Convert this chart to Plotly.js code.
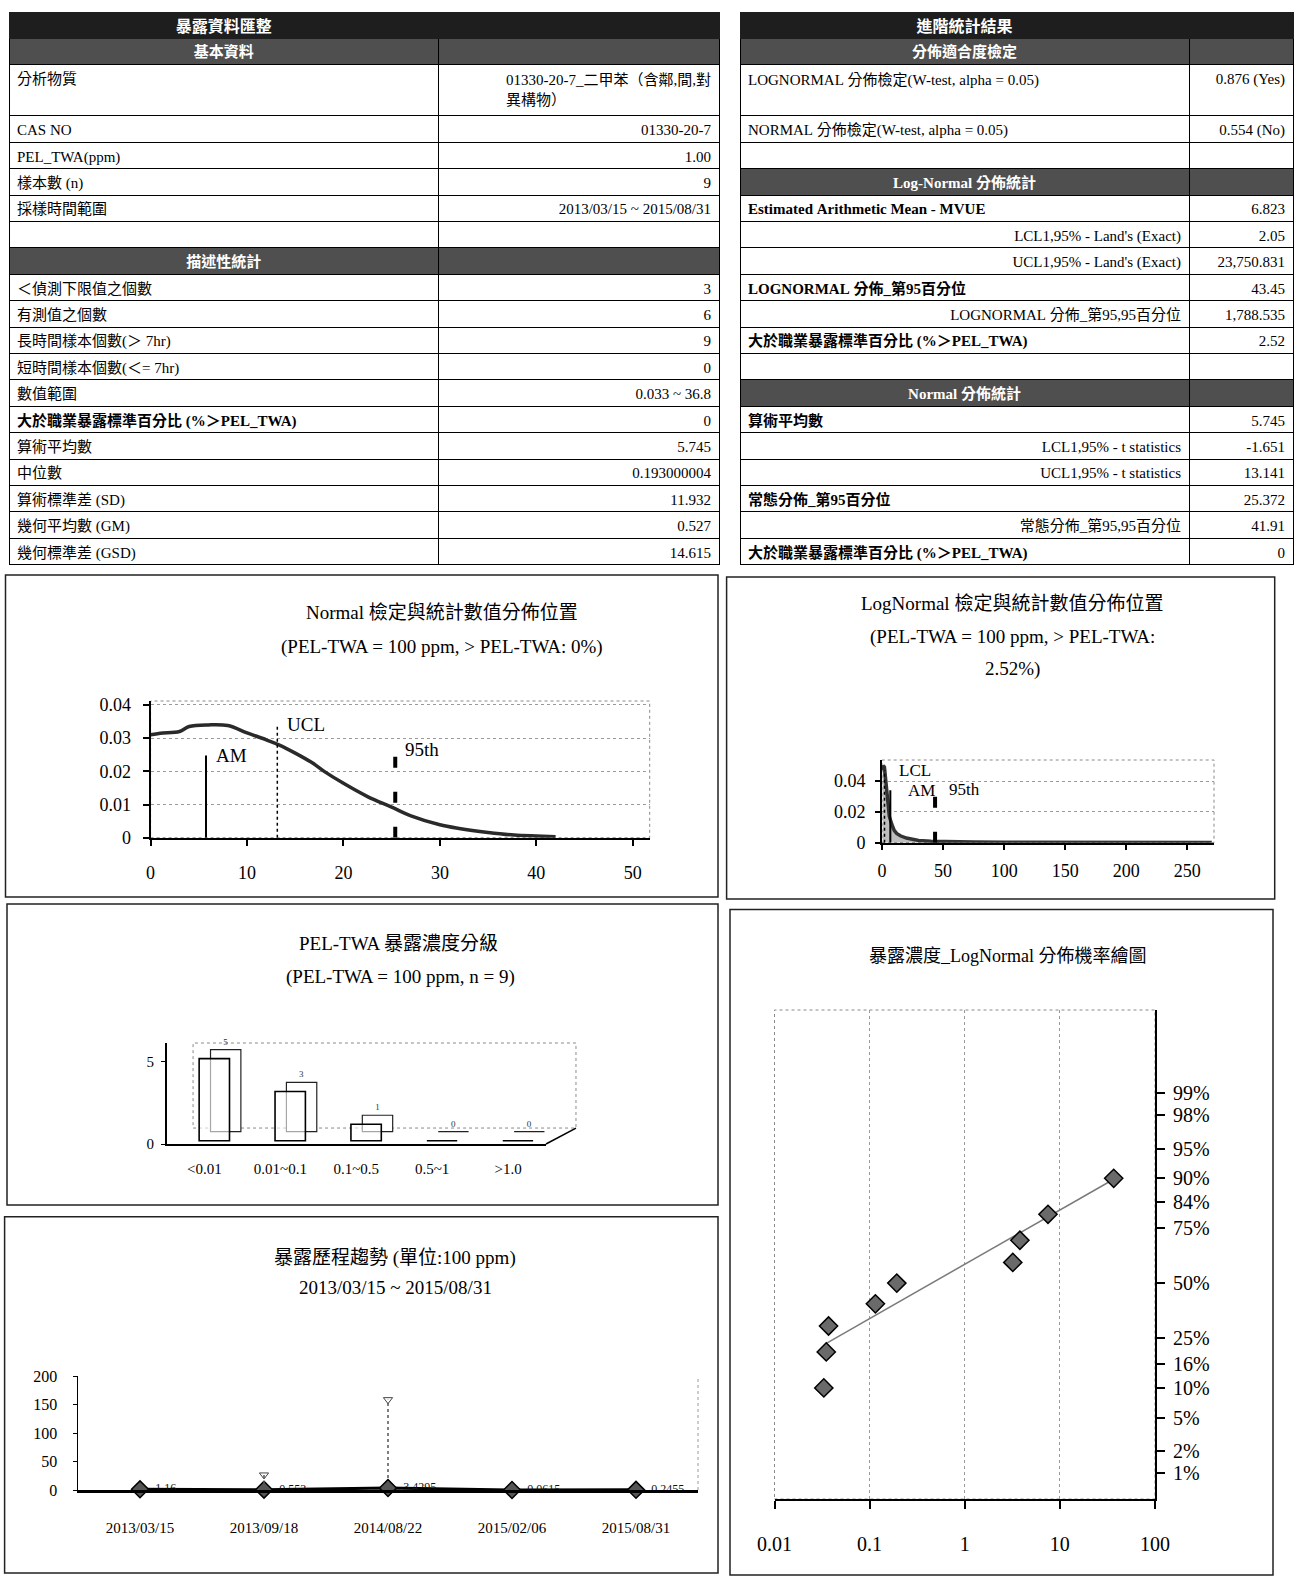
<!DOCTYPE html>
<html><head><meta charset="utf-8">
<script src="https://cdn.plot.ly/plotly-3.0.1.min.js"></script>
<style>html,body{margin:0;padding:0;background:#fff}#chart{width:1298px;height:1578px}</style>
</head><body><div id="chart"></div>
<script>
// ---------------- DATA ----------------
const leftTitle = '暴露資料匯整';
const leftLabels = ['基本資料','分析物質','CAS NO','PEL_TWA(ppm)','樣本數 (n)','採樣時間範圍','','描述性統計',
  '＜偵測下限值之個數','有測值之個數','長時間樣本個數(＞ 7hr)','短時間樣本個數(＜= 7hr)','數值範圍',
  '大於職業暴露標準百分比 (%＞PEL_TWA)','算術平均數','中位數','算術標準差 (SD)','幾何平均數 (GM)','幾何標準差 (GSD)'];
const leftValues = ['','01330-20-7_二甲苯（含鄰,間,對<br>異構物）','01330-20-7','1.00','9','2013/03/15 ~ 2015/08/31','','',
  '3','6','9','0','0.033 ~ 36.8','0','5.745','0.193000004','11.932','0.527','14.615'];
const leftSections = [0, 7];
const leftBoldRows = [13];

const rightTitle = '進階統計結果';
const rightLabels = ['分佈適合度檢定','LOGNORMAL 分佈檢定(W-test, alpha = 0.05)<br>\u00a0','NORMAL 分佈檢定(W-test, alpha = 0.05)','',
  'Log-Normal 分佈統計','Estimated Arithmetic Mean - MVUE',"LCL1,95% - Land's (Exact)","UCL1,95% - Land's (Exact)",
  'LOGNORMAL 分佈_第95百分位','LOGNORMAL 分佈_第95,95百分位','大於職業暴露標準百分比 (%＞PEL_TWA)','',
  'Normal 分佈統計','算術平均數','LCL1,95% - t statistics','UCL1,95% - t statistics',
  '常態分佈_第95百分位','常態分佈_第95,95百分位','大於職業暴露標準百分比 (%＞PEL_TWA)'];
const rightValues = ['','0.876 (Yes)','0.554 (No)','','','6.823','2.05','23,750.831','43.45','1,788.535','2.52','','',
  '5.745','-1.651','13.141','25.372','41.91','0'];
const rightSections = [0, 4, 12];
const rightBoldRows = [5, 8, 10, 13, 16, 18];
const rightAlignedRows = [6, 7, 9, 14, 15, 17];

// Normal distribution chart
const normalX = [0, 1, 3, 4, 6, 8, 10, 12, 13.3, 15, 16.8, 18, 20, 22.5, 25, 27, 30, 32, 35, 37.7, 40, 42];
const normalY = [0.031, 0.0315, 0.032, 0.0335, 0.034, 0.0338, 0.0316, 0.0295, 0.028, 0.0255, 0.0225, 0.02, 0.0164,
  0.0124, 0.0092, 0.0066, 0.0039, 0.0028, 0.0016, 0.0008, 0.0005, 0.0003];
const normalMarkNames = ['AM', 'UCL', '95th'];
const normalMarkX = [5.745, 13.141, 25.372];
const normalMarkTop = [0.0248, 0.0342, 0.0265];

// LogNormal distribution chart
const logX = [0.5, 1, 2, 3, 4, 5, 6, 8, 10, 12, 15, 20, 25, 30, 40, 50, 75, 100, 150, 200, 250, 270];
const logY = [0.047, 0.05, 0.049, 0.04, 0.03, 0.022, 0.017, 0.012, 0.008, 0.006, 0.0045, 0.003, 0.002, 0.0015,
  0.001, 0.0007, 0.0004, 0.0003, 0.0002, 0.0001, 0.00005, 0.00005];
const logMarkNames = ['LCL', 'AM', '95th'];
const logMarkX = [2.05, 6.823, 43.45];
const logMarkTop = [0.047, 0.034, 0.037];

// Exposure class bar chart
const barCats = ['&lt;0.01', '0.01~0.1', '0.1~0.5', '0.5~1', '&gt;1.0'];
const barCounts = [5, 3, 1, 0, 0];

// Trend chart
const trendDates = ['2013/03/15', '2013/09/18', '2014/08/22', '2015/02/06', '2015/08/31'];
const trendValues = [1.16, 0.553, 3.4295, 0.0615, 0.2455];
const trendLabels = ['1.16', '0.553', '3.4295', '0.0615', '0.2455'];
const trendMax = [null, 26.4, 158.5, null, null];

// Probability plot
const probConc = [0.033, 0.035, 0.037, 0.115, 0.193, 3.2, 3.8, 7.5, 36.8];
const probPct = [10, 20, 30, 40, 50, 60, 70, 80, 90];
const fitConc = [0.0343, 36.8];
const fitPct = [22.9, 89.8];
const probTickPct = [99, 98, 95, 90, 84, 75, 50, 25, 16, 10, 5, 2, 1];

// ---------------- HELPERS ----------------
const W = 1298, H = 1578;
const FONT = "'Liberation Serif', 'Noto Sans CJK TC', serif";
const dx = (a, b) => [a / W, b / W];
const dy = (top, bottom) => [1 - bottom / H, 1 - top / H];
const nb = s => s.replace(/ /g, '\u00a0');

// normal quantile function: maps a probability onto the probit axis
function probit(p) {
  const a = [-3.969683028665376e+01, 2.209460984245205e+02, -2.759285104469687e+02, 1.383577518672690e+02, -3.066479806614716e+01, 2.506628277459239e+00];
  const b = [-5.447609879822406e+01, 1.615858368580409e+02, -1.556989798598866e+02, 6.680131188771972e+01, -1.328068155288572e+01];
  const c = [-7.784894002430293e-03, -3.223964580411365e-01, -2.400758277161838e+00, -2.549732539343734e+00, 4.374664141464968e+00, 2.938163982698783e+00];
  const d = [7.784695709041462e-03, 3.224671290700398e-01, 2.445134137142996e+00, 3.754408661907416e+00];
  const pl = 0.02425, ph = 1 - pl; let q, r;
  if (p < pl) { q = Math.sqrt(-2 * Math.log(p)); return (((((c[0]*q+c[1])*q+c[2])*q+c[3])*q+c[4])*q+c[5]) / ((((d[0]*q+d[1])*q+d[2])*q+d[3])*q+1); }
  if (p <= ph) { q = p - 0.5; r = q*q; return (((((a[0]*r+a[1])*r+a[2])*r+a[3])*r+a[4])*r+a[5])*q / (((((b[0]*r+b[1])*r+b[2])*r+b[3])*r+b[4])*r+1); }
  q = Math.sqrt(-2 * Math.log(1 - p)); return -(((((c[0]*q+c[1])*q+c[2])*q+c[3])*q+c[4])*q+c[5]) / ((((d[0]*q+d[1])*q+d[2])*q+d[3])*q+1);
}

const HDR = '#1e1e1e', SEC = '#4f4f4f';
function tableTrace(title, labels, values, sections, boldRows, rightRows, dom, colw) {
  const isSec = labels.map((_, i) => sections.includes(i));
  const fill = isSec.map(s => s ? SEC : '#ffffff');
  const fcol = isSec.map(s => s ? '#ffffff' : '#000000');
  const wt = labels.map((_, i) => (isSec[i] || boldRows.includes(i)) ? 'bold' : 'normal');
  const wtV = labels.map(() => 'normal');
  const alignL = labels.map((_, i) => isSec[i] ? 'center' : (rightRows.includes(i) ? 'right' : 'left'));
  return {
    type: 'table', domain: dom, columnwidth: colw,
    header: { values: [title, ''], fill: { color: HDR }, line: { color: HDR, width: 1 },
      font: { family: FONT, color: '#fff', size: 16, weight: 'bold' }, align: 'center', height: 26 },
    cells: { values: [labels.map(nb), values.map(nb)], fill: { color: [fill, fill] }, align: [alignL, 'right'],
      font: { family: FONT, color: [fcol, fcol], size: 15, weight: [wt, wtV] }, line: { color: '#000', width: 1 }, height: 26.4 }
  };
}

const traces = [];
traces.push(tableTrace(leftTitle, leftLabels, leftValues, leftSections, leftBoldRows, [], { x: dx(9, 720), y: dy(12, 572) }, [430, 281]));
traces.push(tableTrace(rightTitle, rightLabels, rightValues, rightSections, rightBoldRows, rightAlignedRows, { x: dx(740, 1293), y: dy(12, 572) }, [449, 104]));

// Normal chart
traces.push({ type: 'scatter', mode: 'lines', x: normalX, y: normalY, xaxis: 'x', yaxis: 'y',
  line: { color: '#2a2a2a', width: 3.5, shape: 'spline' }, hoverinfo: 'skip' });
const markStyles = { AM: { dash: 'solid', width: 2 }, UCL: { dash: 'dot', width: 1.5 }, LCL: { dash: 'dot', width: 1.5 }, '95th': { dash: '11px,24px', width: 4 } };
normalMarkNames.forEach((n, i) => traces.push({ type: 'scatter', mode: 'lines', x: [normalMarkX[i], normalMarkX[i]], y: [0, normalMarkTop[i]],
  xaxis: 'x', yaxis: 'y', line: { color: '#000', ...markStyles[n] }, hoverinfo: 'skip' }));

// LogNormal chart
traces.push({ type: 'scatter', mode: 'lines', x: logX, y: logY, xaxis: 'x2', yaxis: 'y2', fill: 'tozeroy',
  fillcolor: 'rgba(110,110,110,0.45)', line: { color: '#333', width: 3.5 }, hoverinfo: 'skip' });
logMarkNames.forEach((n, i) => traces.push({ type: 'scatter', mode: 'lines', x: [logMarkX[i], logMarkX[i]], y: [0, logMarkTop[i]],
  xaxis: 'x2', yaxis: 'y2', line: { color: '#000', ...markStyles[n] }, hoverinfo: 'skip' }));

// Bar chart (pseudo 3D: back face + front face)
traces.push({ type: 'bar', x: barCats, y: barCounts, base: 0.75, width: 0.4, offset: 0.08, xaxis: 'x3', yaxis: 'y3',
  marker: { color: '#fff', line: { color: '#222', width: 1.2 } }, text: barCounts.map(String), textposition: 'outside',
  textfont: { size: 9, color: '#333' }, cliponaxis: false, hoverinfo: 'skip' });
traces.push({ type: 'bar', x: barCats, y: barCounts, base: 0.2, width: 0.4, offset: -0.07, xaxis: 'x3', yaxis: 'y3',
  marker: { color: 'rgba(255,255,255,0.6)', line: { color: '#000', width: 1.6 } }, hoverinfo: 'skip' });

// Trend chart
const mx = [], my = [];
trendDates.forEach((d, i) => { if (trendMax[i] != null) { mx.push(d, d, null); my.push(0, trendMax[i], null); } });
traces.push({ type: 'scatter', mode: 'lines+markers+text', x: trendDates, y: trendValues, xaxis: 'x4', yaxis: 'y4',
  text: trendLabels.map(t => '\u00a0\u00a0' + t), textposition: 'middle right', textfont: { size: 12, color: '#111', family: FONT },
  line: { color: '#000', width: 3 }, marker: { symbol: 'diamond', size: 13, color: '#555', line: { color: '#000', width: 1.5 } },
  cliponaxis: false, hoverinfo: 'skip' });
traces.push({ type: 'scatter', mode: 'lines', x: mx, y: my, xaxis: 'x4', yaxis: 'y4',
  line: { color: '#555', width: 1.5, dash: 'dot' }, hoverinfo: 'skip', connectgaps: false });
traces.push({ type: 'scatter', mode: 'markers', x: trendDates, y: trendMax, xaxis: 'x4', yaxis: 'y4',
  marker: { symbol: 'triangle-down-open', size: 8, color: '#444', line: { width: 1 } }, hoverinfo: 'skip' });

// Probability plot
traces.push({ type: 'scatter', mode: 'lines', x: fitConc, y: fitPct.map(p => probit(p / 100)), xaxis: 'x5', yaxis: 'y5',
  line: { color: '#7a7a7a', width: 1.5 }, hoverinfo: 'skip' });
traces.push({ type: 'scatter', mode: 'markers', x: probConc, y: probPct.map(p => probit(p / 100)), xaxis: 'x5', yaxis: 'y5',
  marker: { symbol: 'diamond', size: 14, color: '#6a6a6a', line: { color: '#000', width: 1.5 } }, hoverinfo: 'skip' });

// ---------------- LAYOUT ----------------
const axBase = { showline: true, linecolor: '#000', linewidth: 2, ticks: 'outside', tickcolor: '#000', tickwidth: 2,
  zeroline: false, showgrid: false, fixedrange: true };
const gridDot = { showgrid: true, gridcolor: '#9a9a9a', griddash: 'dot', gridwidth: 1 };

const layout = {
  width: W, height: H, margin: { l: 0, r: 0, t: 0, b: 0 }, paper_bgcolor: '#fff', plot_bgcolor: 'rgba(0,0,0,0)',
  showlegend: false, barmode: 'overlay', font: { family: FONT, color: '#000', size: 14 },
  xaxis: { ...axBase, domain: dx(150.6, 649.7), range: [0, 51.76], tickvals: [0, 10, 20, 30, 40, 50], ticklen: 6,
    tickfont: { size: 18 }, ticklabelstandoff: 12, anchor: 'y' },
  yaxis: { ...axBase, ...gridDot, domain: dy(701, 837.7), range: [0, 0.0412], tickvals: [0, 0.01, 0.02, 0.03, 0.04],
    ticklen: 6, tickfont: { size: 18 }, ticklabelstandoff: 8, anchor: 'x' },
  xaxis2: { ...axBase, domain: dx(882, 1214), range: [0, 271.8], tickvals: [0, 50, 100, 150, 200, 250], ticklen: 5,
    tickfont: { size: 18 }, ticklabelstandoff: 6, anchor: 'y2' },
  yaxis2: { ...axBase, ...gridDot, domain: dy(760, 842.7), range: [0, 0.0537], tickvals: [0, 0.02, 0.04], ticklen: 5,
    tickfont: { size: 18 }, ticklabelstandoff: 6, anchor: 'x2' },
  xaxis3: { ...axBase, type: 'category', domain: dx(166.5, 546), range: [-0.5, 4.5], ticks: '', tickfont: { size: 15 },
    ticklabelstandoff: 10, anchor: 'y3' },
  yaxis3: { ...axBase, linewidth: 1.5, domain: dy(1043, 1144), range: [0, 6.15], tickvals: [0, 5], ticklen: 4, tickwidth: 1,
    tickfont: { size: 15 }, ticklabelstandoff: 4, anchor: 'x3' },
  xaxis4: { ...axBase, type: 'category', categoryorder: 'array', categoryarray: trendDates, linewidth: 2.5,
    domain: dx(78, 698), range: [-0.5, 4.5], ticks: '', tickfont: { size: 15 }, ticklabelstandoff: 22, anchor: 'y4' },
  yaxis4: { ...axBase, linewidth: 1.5, domain: dy(1376, 1490), range: [0, 200], tickvals: [0, 50, 100, 150, 200], ticklen: 4,
    tickwidth: 1, tickfont: { size: 16 }, ticklabelstandoff: 12, anchor: 'x4' },
  xaxis5: { ...axBase, ...gridDot, type: 'log', domain: dx(774.5, 1155), range: [-2, 2], tickvals: [0.01, 0.1, 1, 10, 100],
    ticktext: ['0.01', '0.1', '1', '10', '100'], ticklen: 8, tickfont: { size: 20 }, ticklabelstandoff: 18, anchor: 'y5' },
  yaxis5: { ...axBase, side: 'right', domain: dy(1010, 1499), range: [-2.64, 3.34],
    tickvals: probTickPct.map(p => probit(p / 100)), ticktext: probTickPct.map(p => p + '%'), ticklen: 8,
    tickfont: { size: 20 }, ticklabelstandoff: 4, anchor: 'x5' },
  shapes: [], annotations: []
};

// plot frames (dotted) and chart boxes
const frame = (ax, ay) => ({ type: 'rect', xref: ax + ' domain', yref: ay + ' domain', x0: 0, x1: 1, y0: 0, y1: 1,
  line: { color: '#8a8a8a', width: 1, dash: 'dot' }, layer: 'below' });
layout.shapes.push(frame('x', 'y'), frame('x2', 'y2'), frame('x5', 'y5'));
layout.shapes.push({ type: 'line', xref: 'x4 domain', yref: 'y4 domain', x0: 1, x1: 1, y0: 0, y1: 1,
  line: { color: '#9a9a9a', width: 1, dash: 'dot' } });
// 3D back wall of bar chart
layout.shapes.push({ type: 'rect', xref: 'x3 domain', yref: 'y3 domain', x0: 0.07, x1: 1.079, y0: 0.158, y1: 1,
  line: { color: '#8a8a8a', width: 1, dash: 'dot' }, layer: 'below' });
layout.shapes.push({ type: 'line', xref: 'x3 domain', yref: 'y3 domain', x0: 1, x1: 1.079, y0: 0, y1: 0.158,
  line: { color: '#000', width: 1.5 } });

const boxes = [[5.5, 575, 718, 897], [726.6, 577, 1274.7, 899], [7, 904, 718, 1205], [4.6, 1216.7, 718, 1573], [730, 909.5, 1273, 1575]];
boxes.forEach(b => layout.shapes.push({ type: 'rect', xref: 'paper', yref: 'paper', x0: b[0] / W, x1: b[2] / W,
  y0: 1 - b[3] / H, y1: 1 - b[1] / H, line: { color: '#222', width: 1.5 }, layer: 'below' }));

// chart titles
const titles = [
  ['Normal 檢定與統計數值分佈位置', 442, 612], ['(PEL-TWA = 100 ppm, &gt; PEL-TWA: 0%)', 442, 647],
  ['LogNormal 檢定與統計數值分佈位置', 1012, 603], ['(PEL-TWA = 100 ppm, &gt; PEL-TWA:', 1012, 637], ['2.52%)', 1012, 669],
  ['PEL-TWA 暴露濃度分級', 398, 943], ['(PEL-TWA = 100 ppm, n = 9)', 400, 977],
  ['暴露歷程趨勢 (單位:100 ppm)', 395, 1258], ['2013/03/15 ~ 2015/08/31', 395, 1287],
  ['暴露濃度_LogNormal 分佈機率繪圖', 1007, 956]
];
titles.forEach(t => layout.annotations.push({ text: t[0], x: t[1] / W, y: 1 - t[2] / H, xref: 'paper', yref: 'paper',
  xanchor: 'center', yanchor: 'middle', showarrow: false, font: { size: t[0].startsWith('暴露濃度') ? 18 : 19, family: FONT } }));

// marker labels
normalMarkNames.forEach((n, i) => layout.annotations.push({ text: n, x: normalMarkX[i], y: normalMarkTop[i], xref: 'x', yref: 'y',
  xanchor: 'left', yanchor: 'middle', xshift: 8, showarrow: false, font: { size: 19, family: FONT } }));
logMarkNames.forEach((n, i) => layout.annotations.push({ text: n, x: logMarkX[i], y: logMarkTop[i], xref: 'x2', yref: 'y2',
  xanchor: 'left', yanchor: 'middle', xshift: n === 'AM' ? 16 : 12, yshift: n === '95th' ? -4 : 0, showarrow: false,
  font: { size: 17, family: FONT } }));

Plotly.newPlot('chart', traces, layout, { staticPlot: true, displayModeBar: false });
</script>
</body></html>
